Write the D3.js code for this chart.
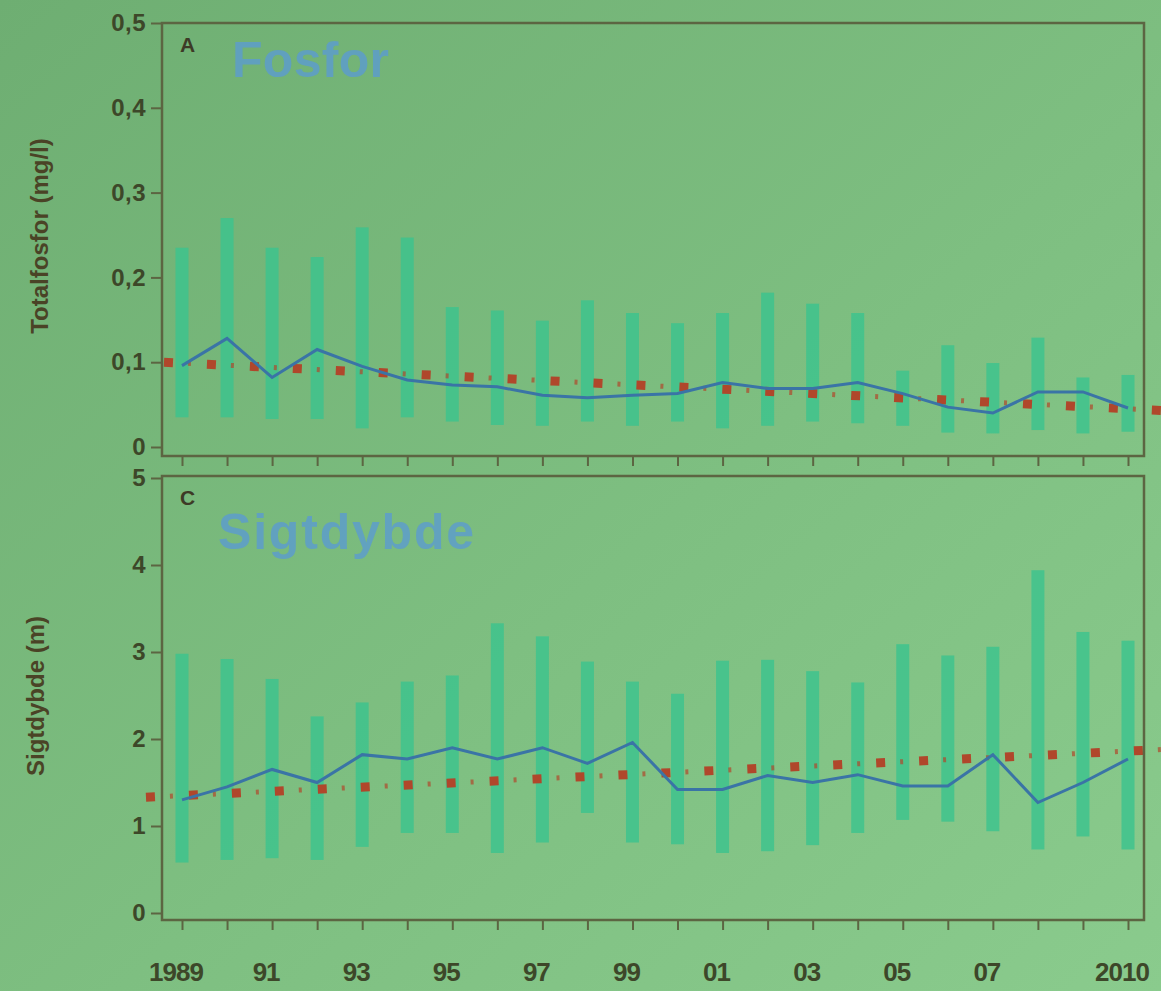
<!DOCTYPE html>
<html>
<head>
<meta charset="utf-8">
<script src="https://cdn.jsdelivr.net/npm/d3@7"></script>
<style>
  html, body { margin: 0; padding: 0; }
  body { width: 1161px; height: 991px; overflow: hidden; }
  svg { display: block; font-family: "Liberation Sans", Arial, sans-serif; }
</style>
</head>
<body>
<svg id="chart" width="1161" height="991"></svg>
<script>
// years on the x axis
const years = [1989, 1990, 1991, 1992, 1993, 1994, 1995, 1996, 1997, 1998, 1999,
  2000, 2001, 2002, 2003, 2004, 2005, 2006, 2007, 2008, 2009, 2010];
const yearLabels = { 1989: '1989', 1991: '91', 1993: '93', 1995: '95', 1997: '97',
  1999: '99', 2001: '01', 2003: '03', 2005: '05', 2007: '07', 2010: '2010' };

// A: total phosphorus (mg/l)
const phosMean = [0.096, 0.128, 0.082, 0.115, 0.095, 0.079, 0.073, 0.071, 0.061, 0.058, 0.061,
  0.063, 0.076, 0.069, 0.069, 0.076, 0.063, 0.047, 0.040, 0.065, 0.065, 0.046];
const phosHigh = [0.235, 0.270, 0.235, 0.224, 0.259, 0.247, 0.165, 0.161, 0.149, 0.173, 0.158,
  0.146, 0.158, 0.182, 0.169, 0.158, 0.090, 0.120, 0.099, 0.129, 0.082, 0.085];
const phosLow = [0.035, 0.035, 0.033, 0.033, 0.022, 0.035, 0.030, 0.026, 0.025, 0.030, 0.025,
  0.030, 0.022, 0.025, 0.030, 0.028, 0.025, 0.017, 0.016, 0.020, 0.016, 0.018];
const phosTrendYears = [1988.6, 2010.8];
const phosTrend = [0.100, 0.043];
const phosTicks = [0, 0.1, 0.2, 0.3, 0.4, 0.5];

// C: Secchi depth (m)
const secMean = [1.30, 1.45, 1.65, 1.50, 1.82, 1.77, 1.90, 1.77, 1.90, 1.72, 1.96,
  1.42, 1.42, 1.58, 1.50, 1.59, 1.46, 1.46, 1.82, 1.27, 1.50, 1.77];
const secHigh = [2.98, 2.92, 2.69, 2.26, 2.42, 2.66, 2.73, 3.33, 3.18, 2.89, 2.66,
  2.52, 2.90, 2.91, 2.78, 2.65, 3.09, 2.96, 3.06, 3.94, 3.23, 3.13];
const secLow = [0.58, 0.61, 0.63, 0.61, 0.76, 0.92, 0.92, 0.69, 0.81, 1.15, 0.81,
  0.79, 0.69, 0.71, 0.78, 0.92, 1.07, 1.05, 0.94, 0.73, 0.88, 0.73];
const secTrendYears = [1988.2, 2010.8];
const secTrend = [1.33, 1.88];
const secTicks = [0, 1, 2, 3, 4, 5];

const svg = d3.select('#chart');

// photographed slide background
const defs = svg.append('defs');
const grad = defs.append('linearGradient')
  .attr('id', 'bg').attr('x1', '0').attr('y1', '0').attr('x2', '1').attr('y2', '1');
grad.append('stop').attr('offset', '0%').attr('stop-color', '#6eae72');
grad.append('stop').attr('offset', '55%').attr('stop-color', '#7ebf81');
grad.append('stop').attr('offset', '100%').attr('stop-color', '#8acb8d');
svg.append('rect').attr('width', 1161).attr('height', 991).attr('fill', 'url(#bg)');

const frameColor = '#5c6542';
const textColor = '#3d4729';

const x = d3.scaleLinear().domain([1989, 2010]).range([182, 1128]);

const panels = [
  { letter: 'A', title: 'Fosfor', ylabel: 'Totalfosfor (mg/l)', mean: phosMean, high: phosHigh,
    low: phosLow, trendYears: phosTrendYears, trend: phosTrend, ticks: phosTicks,
    domain: [0, 0.5], range: [447, 23], frame: [23, 456], titleX: 232, titleY: 77,
    titleSpacing: 0.3, labelX: 48, labelY: 236,
    fmt: d => d === 0 ? '0' : d3.format('.1f')(d).replace('.', ',') },
  { letter: 'C', title: 'Sigtdybde', ylabel: 'Sigtdybde (m)', mean: secMean, high: secHigh,
    low: secLow, trendYears: secTrendYears, trend: secTrend, ticks: secTicks,
    domain: [0, 5], range: [913, 478], frame: [476, 920], titleX: 218, titleY: 549,
    titleSpacing: 1.8, labelX: 44, labelY: 696,
    fmt: d3.format('d') }
];

panels.forEach(p => {
  const y = d3.scaleLinear().domain(p.domain).range(p.range);
  const g = svg.append('g');

  // range bars
  g.selectAll('rect.bar')
    .data(years)
    .enter()
    .append('rect')
    .attr('class', 'bar')
    .attr('x', d => x(d) - 6.5)
    .attr('width', 13)
    .attr('y', (d, i) => y(p.high[i]))
    .attr('height', (d, i) => y(p.low[i]) - y(p.high[i]))
    .attr('fill', '#3cc38e')
    .attr('opacity', 0.82);

  // trend line: big squares with small marks between
  const trendData = p.trendYears.map((yr, i) => [yr, p.trend[i]]);
  const trendLine = d3.line().x(d => x(d[0])).y(d => y(d[1]));
  g.append('path')
    .datum(trendData)
    .attr('d', trendLine)
    .attr('fill', 'none')
    .attr('stroke', '#b0472b')
    .attr('stroke-width', 9)
    .attr('stroke-dasharray', '9,34');
  g.append('path')
    .datum(trendData)
    .attr('d', trendLine)
    .attr('fill', 'none')
    .attr('stroke', '#b0472b')
    .attr('stroke-width', 5)
    .attr('stroke-opacity', 0.7)
    .attr('stroke-dasharray', '3,40')
    .attr('stroke-dashoffset', -24);

  // mean line
  g.append('path')
    .datum(years.map((yr, i) => [yr, p.mean[i]]))
    .attr('d', d3.line().x(d => x(d[0])).y(d => y(d[1])))
    .attr('fill', 'none')
    .attr('stroke', '#3a74a6')
    .attr('stroke-width', 3);

  // frame
  g.append('rect')
    .attr('x', 162).attr('y', p.frame[0])
    .attr('width', 1144 - 162).attr('height', p.frame[1] - p.frame[0])
    .attr('fill', 'none').attr('stroke', frameColor).attr('stroke-width', 2.5);

  // y axis
  const yAxis = g.append('g')
    .attr('transform', 'translate(162,0)')
    .call(d3.axisLeft(y).tickValues(p.ticks).tickFormat(p.fmt).tickSize(11).tickPadding(5));
  yAxis.select('.domain').remove();
  yAxis.selectAll('line').attr('stroke', frameColor).attr('stroke-width', 2);
  yAxis.selectAll('text')
    .attr('fill', textColor)
    .attr('font-size', 24)
    .attr('font-weight', 'bold')
    .attr('letter-spacing', 0.5);

  // x axis ticks
  const xAxis = g.append('g')
    .attr('transform', `translate(0,${p.frame[1]})`)
    .call(d3.axisBottom(x).tickValues(years).tickFormat('').tickSize(10).tickSizeOuter(0));
  xAxis.select('.domain').remove();
  xAxis.selectAll('line').attr('stroke', frameColor).attr('stroke-width', 2);

  // panel letter and title
  g.append('text')
    .attr('x', 180).attr('y', p.frame[0] + 29)
    .attr('font-size', 21).attr('font-weight', 'bold')
    .attr('fill', '#3d3a26')
    .text(p.letter);
  g.append('text')
    .attr('x', p.titleX).attr('y', p.titleY)
    .attr('font-size', 50).attr('font-weight', 'bold')
    .attr('letter-spacing', p.titleSpacing)
    .attr('fill', '#5c9cd0')
    .attr('opacity', 0.8)
    .text(p.title);

  // y axis title
  g.append('text')
    .attr('transform', `translate(${p.labelX},${p.labelY}) rotate(-90)`)
    .attr('text-anchor', 'middle')
    .attr('font-size', 24).attr('font-weight', 'bold')
    .attr('fill', '#4a4326')
    .text(p.ylabel);
});

// year labels under the lower panel
svg.append('g')
  .selectAll('text')
  .data(years.filter(d => yearLabels[d]))
  .enter()
  .append('text')
  .attr('x', d => x(d) - 6)
  .attr('y', 981)
  .attr('text-anchor', 'middle')
  .attr('font-size', 26).attr('font-weight', 'bold')
  .attr('letter-spacing', -1)
  .attr('fill', textColor)
  .text(d => yearLabels[d]);
</script>
</body>
</html>
